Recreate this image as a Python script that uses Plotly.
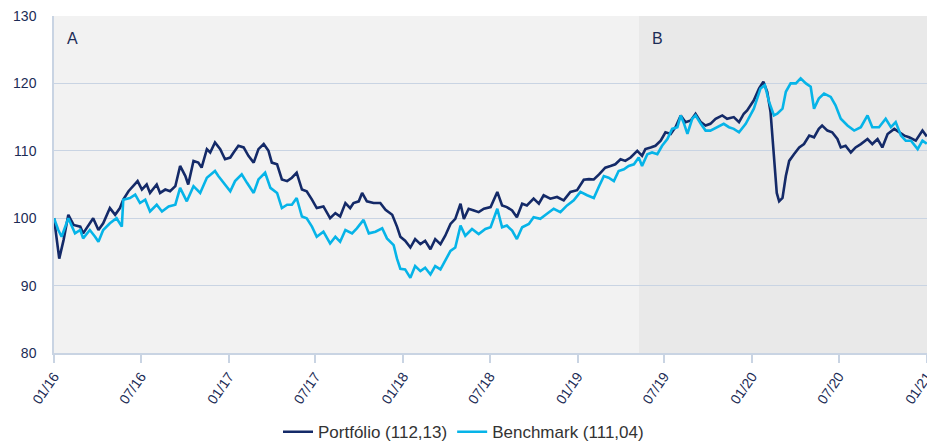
import pandas as pd
import plotly.graph_objects as go

start_date = pd.Timestamp("2016-01-01")

# Values: (days since 2016-01-01, index level)
portfolio_days = [0, 11, 20, 30, 41, 55, 61, 75, 82, 93, 103, 117, 128, 138, 145, 156, 166, 175, 184, 194,
                  201, 215, 222, 233, 243, 254, 264, 275, 281, 292, 302, 309, 320, 327, 337, 348, 358, 369, 376, 386,
                  397, 407, 418, 428, 439, 449, 456, 467, 477, 488, 498, 508, 519, 529, 540, 550, 564, 578, 589, 599,
                  610, 620, 627, 638, 645, 655, 669, 683, 694, 708, 718, 725, 735, 746, 756, 767, 777, 788, 798, 809,
                  819, 830, 840, 851, 858, 868, 879, 889, 900, 914, 928, 938, 948, 959, 969, 980, 990, 1004, 1015, 1025,
                  1039, 1053, 1067, 1081, 1095, 1109, 1120, 1130, 1141, 1154, 1165, 1175, 1186, 1196, 1207, 1221, 1231, 1238, 1249, 1259,
                  1270, 1280, 1291, 1301, 1312, 1322, 1333, 1343, 1354, 1364, 1374, 1385, 1399, 1409, 1423, 1434, 1444, 1451, 1465, 1476,
                  1485, 1493, 1500, 1507, 1513, 1518, 1525, 1532, 1539, 1549, 1560, 1570, 1581, 1591, 1601, 1608, 1619, 1629, 1640, 1647,
                  1657, 1668, 1678, 1689, 1703, 1713, 1724, 1734, 1745, 1759, 1769, 1780, 1790, 1804, 1818, 1827]
portfolio_values = [100, 94, 96.75, 100.5, 99, 98.75, 97.75, 99.25, 100, 98.25, 99.25, 101.5, 100.5, 101.5, 102.75, 104, 104.75, 105.5, 104.25, 105,
                    103.75, 105, 103.75, 104.25, 104, 104.75, 107.75, 106.25, 105, 108.5, 108.25, 107.5, 110.25, 109.75, 111.25, 110.25, 108.75, 109, 109.75, 110.75,
                    110.5, 109.25, 108.25, 110.25, 111, 110, 108.25, 108, 105.75, 105.5, 106, 106.75, 104.25, 104, 102.75, 101.5, 101.75, 100, 100.75, 100.25,
                    102.25, 101.5, 102.25, 102.5, 103.75, 102.5, 102.25, 102.25, 101.25, 100.5, 98.75, 97.25, 96.65, 95.65, 96.9, 96.15, 96.65, 95.4, 96.9, 96.15,
                    97.4, 99.15, 99.9, 102.15, 99.9, 101.4, 101.15, 100.9, 101.4, 101.65, 103.9, 101.9, 101.65, 101.15, 100.15, 102.15, 101.9, 102.9, 102.15, 103.4,
                    102.9, 103.15, 102.65, 103.9, 104.15, 105.7, 105.8, 105.75, 106.5, 107.5, 107.75, 108, 108.75, 108.5, 109, 110, 109.25, 110.25, 110.5, 110.75,
                    111.5, 112.75, 112.5, 113.5, 115.25, 114.25, 114.5, 115.5, 114.25, 113.75, 114, 114.75, 115.25, 114.75, 115, 114.25, 115.5, 116, 117.5, 119.25,
                    120.25, 118.75, 115.75, 109.25, 103.75, 102.5, 103, 106.25, 108.5, 109.5, 110.5, 111, 112.25, 112, 113.25, 113.75, 113, 112.75, 111.75, 110.5,
                    110.75, 109.75, 110.5, 111, 111.75, 111, 111.75, 110.5, 112.5, 113.25, 112.75, 112.25, 112, 111.5, 113, 112.13]

benchmark_days = [0, 9, 16, 30, 44, 55, 61, 75, 86, 93, 103, 117, 131, 142, 145, 159, 170, 180, 191, 201,
                  215, 226, 240, 254, 264, 278, 292, 306, 320, 337, 344, 355, 369, 379, 393, 404, 418, 428, 442, 453,
                  467, 477, 488, 498, 508, 519, 529, 540, 550, 564, 578, 589, 599, 610, 624, 634, 648, 659, 673, 687,
                  697, 711, 718, 725, 735, 746, 756, 767, 777, 788, 798, 809, 819, 830, 840, 851, 861, 875, 889, 903,
                  914, 928, 938, 948, 959, 969, 980, 994, 1004, 1018, 1032, 1046, 1060, 1074, 1088, 1102, 1116, 1130, 1141, 1151,
                  1161, 1172, 1182, 1193, 1203, 1214, 1224, 1231, 1242, 1252, 1263, 1273, 1284, 1294, 1305, 1312, 1319, 1326, 1336, 1343,
                  1354, 1364, 1374, 1388, 1402, 1413, 1423, 1434, 1448, 1465, 1479, 1488, 1497, 1507, 1514, 1525, 1532, 1542, 1553, 1563,
                  1574, 1584, 1591, 1601, 1612, 1626, 1636, 1647, 1661, 1675, 1689, 1703, 1713, 1727, 1741, 1752, 1762, 1773, 1783, 1794,
                  1808, 1818, 1827]
benchmark_values = [100, 98.25, 97.25, 100, 97.75, 98.25, 97, 98.25, 97.25, 96.5, 98.25, 99.25, 100, 98.75, 102.75, 103, 103.5, 102.25, 102.75, 101,
                    102, 101, 101.75, 102, 104.5, 102.5, 104.75, 103.75, 106, 107, 106.25, 105.25, 104, 105.5, 106.5, 105.25, 103.75, 105.75, 106.75, 104.5,
                    103.75, 101.5, 102, 102, 103, 100.25, 100, 98.75, 97.25, 98, 96.25, 97.25, 96.5, 98.25, 97.75, 98.5, 99.75, 97.75, 98, 98.5,
                    97, 96, 94, 92.5, 92.4, 91.15, 92.9, 92.15, 92.65, 91.65, 92.9, 92.4, 93.65, 95.15, 95.65, 98.9, 97.4, 98.4, 97.65, 98.4,
                    98.65, 101.4, 98.65, 98.9, 98.15, 96.9, 98.65, 99.15, 100.15, 99.9, 100.65, 101.4, 100.9, 101.9, 102.65, 103.9, 103.4, 103, 104.75, 106.25,
                    106, 105.5, 107, 107.25, 107.75, 108, 109, 107.75, 109.5, 109.75, 109.5, 110.75, 111.75, 113.25, 113.5, 115.25, 114, 112.5, 114.75, 115.25,
                    114, 113, 113, 113.5, 114, 113.5, 113.25, 112.75, 114, 116.25, 119.25, 119.75, 117.25, 115.25, 115.5, 116.25, 118.75, 120, 120, 120.75,
                    120, 119.5, 116.25, 117.75, 118.5, 118, 116.75, 114.75, 113.75, 113, 113.5, 115.25, 113.5, 113.5, 114.75, 113.5, 114.25, 112.25, 111.5, 111.5,
                    110.25, 111.5, 111.04]

series_names = ["Portfólio (112,13)", "Benchmark (111,04)"]
series_colors = ["#142a68", "#06b4e8"]

tick_dates = ["2016-01-01", "2016-07-01", "2017-01-01", "2017-07-01", "2018-01-01", "2018-07-01",
              "2019-01-01", "2019-07-01", "2020-01-01", "2020-07-01", "2021-01-01"]
tick_labels = ["01/16", "07/16", "01/17", "07/17", "01/18", "07/18",
               "01/19", "07/19", "01/20", "07/20", "01/21"]

region_labels = ["A", "B"]
region_starts = ["2016-01-01", "2019-05-09"]
region_ends = ["2019-05-09", "2021-01-02"]
region_colors = ["#f2f2f2", "#e9e9e9"]

y_ticks = [80, 90, 100, 110, 120, 130]

def to_dates(days):
    return start_date + pd.to_timedelta(days, unit="D")

font_family = "Liberation Sans, Arial, Helvetica, sans-serif"
text_navy = "#1c2c56"
grid_col = "#c9d4e3"

fig = go.Figure()
for name, days, vals, col in zip(series_names,
                                 [portfolio_days, benchmark_days],
                                 [portfolio_values, benchmark_values],
                                 series_colors):
    fig.add_trace(go.Scatter(x=to_dates(days), y=vals, mode="lines", name=name,
                             line=dict(color=col, width=2.6)))

for lab, s, e, c in zip(region_labels, region_starts, region_ends, region_colors):
    fig.add_shape(type="rect", xref="x", yref="paper", x0=s, x1=e, y0=0, y1=1,
                  fillcolor=c, line=dict(width=0), layer="below")
    fig.add_annotation(x=s, xref="x", y=1, yref="paper", text=lab, showarrow=False,
                       xanchor="left", yanchor="top", xshift=11, yshift=-12,
                       font=dict(size=16, color=text_navy, family=font_family))

fig.update_layout(
    width=927, height=441,
    margin=dict(l=54, r=0, t=16, b=88),
    paper_bgcolor="white", plot_bgcolor="white",
    font=dict(family=font_family, size=14, color=text_navy),
    showlegend=True,
    legend=dict(orientation="h", xref="container", yref="container", x=0.5, y=0.02,
                xanchor="center", yanchor="middle",
                font=dict(size=17, color="#333333", family=font_family),
                itemwidth=30, tracegroupgap=0),
)
fig.update_xaxes(
    range=["2016-01-01", "2021-01-01 12:00"],
    tickvals=tick_dates, ticktext=tick_labels, tickangle=-55,
    ticklabeloverflow="allow",
    showgrid=False, showline=True, linecolor=grid_col, linewidth=1.5,
    ticks="outside", ticklen=8, tickcolor=grid_col, tickwidth=1.5,
    tickfont=dict(size=14, color=text_navy), automargin=False, zeroline=False,
)
fig.update_yaxes(
    range=[80, 130], tickvals=y_ticks,
    showgrid=True, gridcolor=grid_col, gridwidth=1.2,
    showline=True, linecolor=grid_col, linewidth=1.5,
    ticks="", ticklabelstandoff=13,
    tickfont=dict(size=14, color=text_navy), automargin=False, zeroline=False,
)

fig.write_html("out.html", config={"displayModeBar": False},
               post_script="document.body.style.margin='0';document.body.style.overflow='hidden';")
